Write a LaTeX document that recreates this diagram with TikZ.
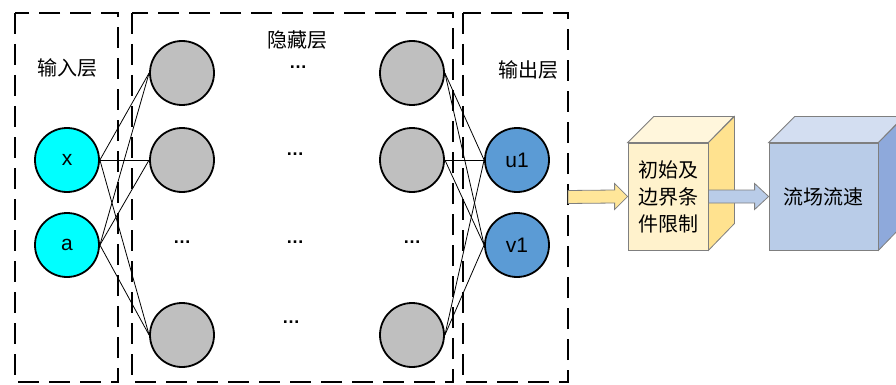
\documentclass[tikz,border=0pt]{standalone}
\usepackage{fontspec}
\setmainfont{Liberation Sans}
\newfontfamily\cjk{Noto Sans CJK SC}
\usetikzlibrary{calc}
\definecolor{incol}{HTML}{00FFFF}
\definecolor{hidcol}{HTML}{BFBFBF}
\definecolor{outcol}{HTML}{5B9BD5}
\definecolor{yfront}{HTML}{FFF2CC}
\definecolor{ytop}{HTML}{FFF6DC}
\definecolor{yside}{HTML}{FFE28F}
\definecolor{yarrow}{HTML}{FFE699}
\definecolor{bfront}{HTML}{B9CCE8}
\definecolor{btop}{HTML}{D3DEF1}
\definecolor{bside}{HTML}{8EA9DB}
\definecolor{edgegray}{HTML}{7F7F7F}
\tikzset{
  layerbox/.style={draw=black, line width=2.5pt, dash pattern=on 21pt off 10pt},
  neuron/.style={circle, draw=black, line width=1.8pt, minimum size=64pt, inner sep=0pt, font=\fontsize{21}{24}\selectfont},
  innode/.style={neuron, fill=incol},
  hidnode/.style={neuron, fill=hidcol},
  outnode/.style={neuron, fill=outcol},
  layerlabel/.style={font=\cjk\fontsize{20}{24}\selectfont},
  dotslabel/.style={font=\bfseries\fontsize{18}{20}\selectfont},
  link/.style={draw=black, line width=0.8pt},
  cubeface/.style={draw=edgegray, line width=0.8pt},
  fatarrow/.style={draw=edgegray, line width=0.8pt},
}
\begin{document}
\begin{tikzpicture}[x=1pt,y=-1pt]
\useasboundingbox (0,0) rectangle (896,385);
\clip (0,0) rectangle (896,385);
% layer boxes
\draw[layerbox] (15,13) rectangle (118,382);
\draw[layerbox] (132,13) rectangle (453,382);
\draw[layerbox] (463,13) rectangle (568,382);
\coordinate (outedge) at (568,197);
% labels
\node[layerlabel] (lin) at (67,68) {输入层};
\node[layerlabel] (lhid) at (297,40) {隐藏层};
\node[layerlabel] (lout) at (528,70) {输出层};
% input nodes
\node[innode] (x) at (67,160) {x};
\node[innode] (a) at (67,245) {a};
% hidden col 1
\node[hidnode] (h11) at (182,73) {};
\node[hidnode] (h12) at (182,160) {};
\node[hidnode] (h14) at (182,335) {};
% hidden col 2
\node[hidnode] (h21) at (412,73) {};
\node[hidnode] (h22) at (412,160) {};
\node[hidnode] (h24) at (412,335) {};
% output nodes
\node[outnode] (u) at (517,160) {u1};
\node[outnode] (v) at (517,245) {v1};
% dots
\node[dotslabel] (d1) at (182,242) {…};
\node[dotslabel] (d2) at (298,67) {…};
\node[dotslabel] (d3) at (295,154) {…};
\node[dotslabel] (d4) at (295,242) {…};
\node[dotslabel] (d5) at (291,322) {…};
\node[dotslabel] (d6) at (412,242) {…};
% links
\foreach \s in {x,a}{
  \foreach \t in {h11,h12,h14}{
    \draw[link] (\s.east) -- (\t.west);
  }
}
\foreach \s in {h21,h22,h24}{
  \foreach \t in {u,v}{
    \draw[link] (\s.east) -- (\t.west);
  }
}
% cube 1
\node[cubeface, fill=yfront, minimum width=80pt, minimum height=107pt, inner sep=0pt,
  font=\cjk\fontsize{20}{27}\selectfont, align=center] (c1) at (668,196.5) {初始及\\边界条\\件限制};
\draw[cubeface, fill=ytop] (c1.north west) -- ++(26,-26) -- ++(80,0) -- (c1.north east) -- cycle;
\draw[cubeface, fill=yside] (c1.north east) -- ++(26,-26) -- ++(0,107) -- (c1.south east) -- cycle;
% cube 2
\node[cubeface, fill=bfront, minimum width=109pt, minimum height=107pt, inner sep=0pt,
  font=\cjk\fontsize{20}{24}\selectfont] (c2) at (823.5,196.5) {流场流速};
\draw[cubeface, fill=btop] (c2.north west) -- ++(26,-26) -- ++(109,0) -- (c2.north east) -- cycle;
\draw[cubeface, fill=bside] (c2.north east) -- ++(26,-26) -- ++(0,107) -- (c2.south east) -- cycle;
% fat arrows
\draw[fatarrow, fill=yarrow] (outedge) ++(0,-6.5) -- ($(c1.west)+(-13,-6.5)$) -- ($(c1.west)+(-13,-13)$)
  -- (c1.west) -- ($(c1.west)+(-13,13)$) -- ($(c1.west)+(-13,6.5)$) -- ($(outedge)+(0,6.5)$) -- cycle;
\draw[fatarrow, fill=bfront] (c1.east) ++(0,-6.5) -- ($(c2.west)+(-14,-6.5)$) -- ($(c2.west)+(-14,-13)$)
  -- (c2.west) -- ($(c2.west)+(-14,13)$) -- ($(c2.west)+(-14,6.5)$) -- ($(c1.east)+(0,6.5)$) -- cycle;
\end{tikzpicture}
\end{document}
